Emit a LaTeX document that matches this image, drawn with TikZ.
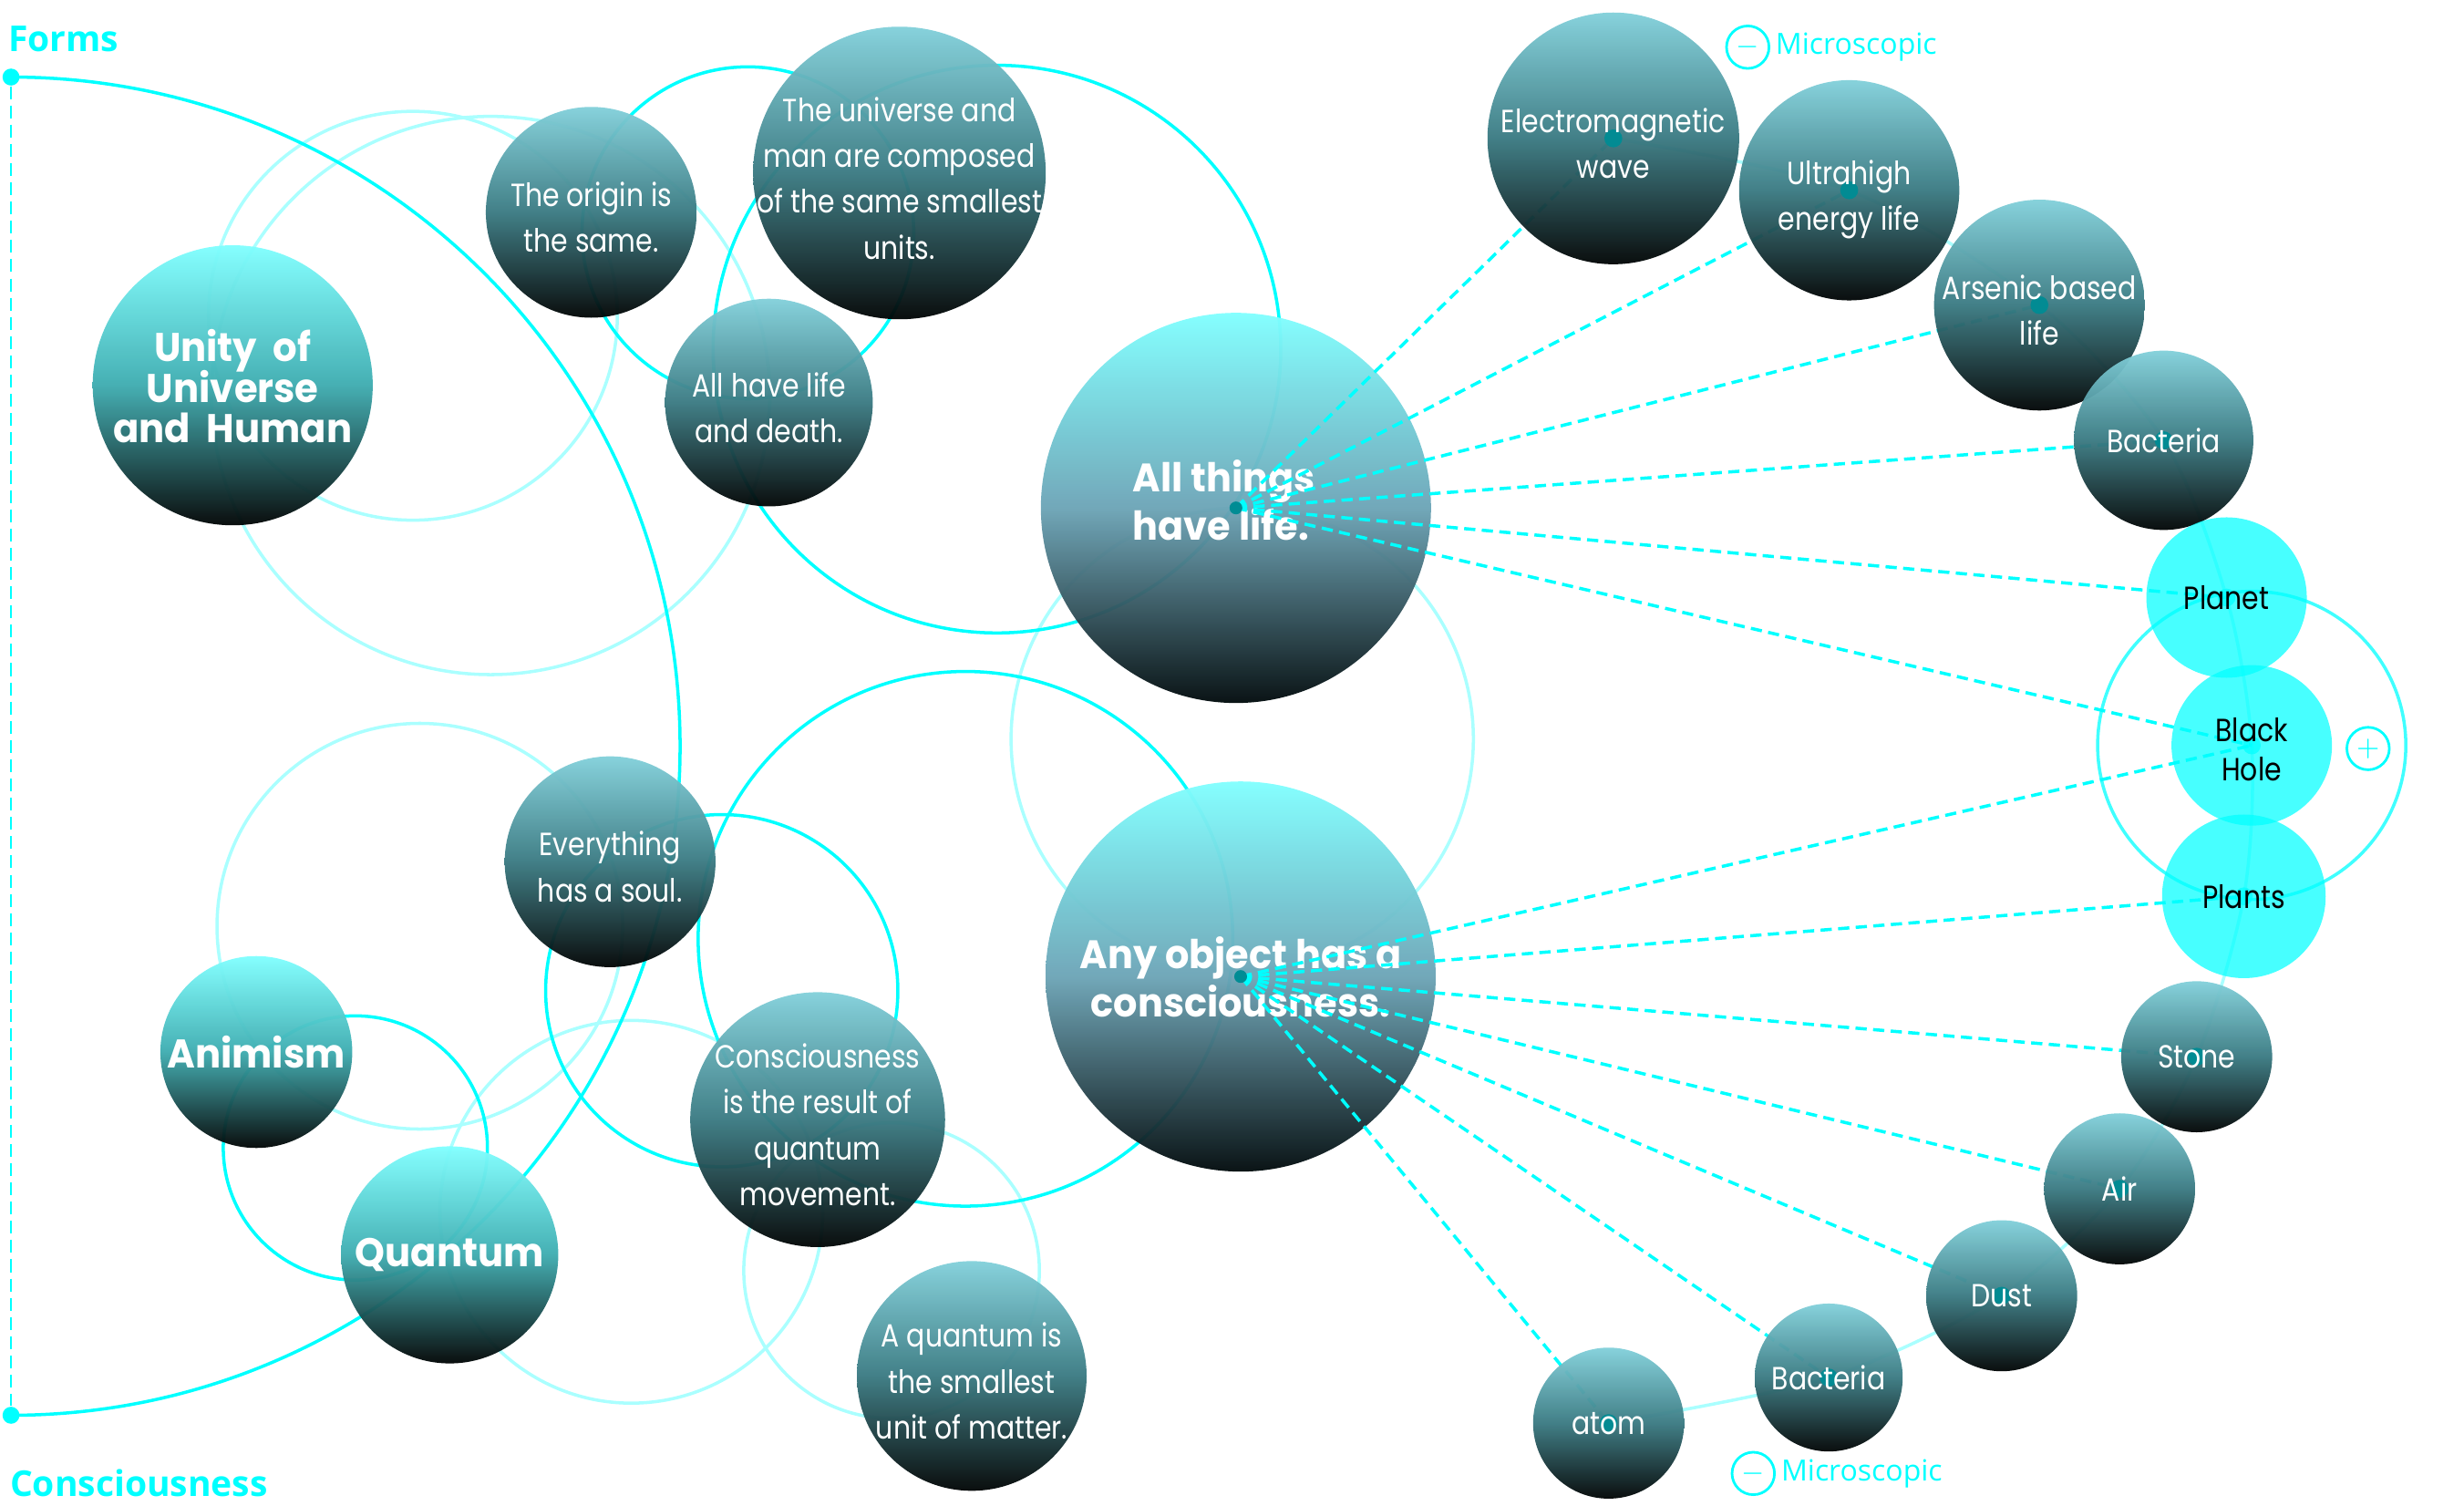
\documentclass[tikz,border=0pt]{standalone}
\usepackage{fontspec}
\usetikzlibrary{positioning,backgrounds}
\newfontfamily\ballfont[FakeStretch=0.85]{Poppins}
\newfontfamily\headfont[FakeStretch=0.95]{Poppins}
\newfontfamily\tagfont{Open Sans}
\definecolor{aqua}{RGB}{0,255,255}
\definecolor{paleaqua}{RGB}{170,255,255}
\definecolor{tealdot}{RGB}{0,140,148}
\definecolor{balltop}{RGB}{130,208,218}
\definecolor{ballmid}{RGB}{58,122,130}
\definecolor{ballbot}{RGB}{0,4,4}
\definecolor{aquatop}{RGB}{128,255,255}
\definecolor{aquamid}{RGB}{62,172,176}
\definecolor{bigmid}{RGB}{108,164,182}
\definecolor{bigbot}{RGB}{0,10,12}
\newcommand{\ballwords}[1]{\smash{\raisebox{-5pt}{\makebox[0pt]{\begin{tabular}{@{}c@{}}#1\end{tabular}}}}}
\newcommand{\ballwordsleft}[1]{\smash{\raisebox{-2.5pt}{\makebox[0pt]{\begin{tabular}{@{}l@{}}#1\end{tabular}}}}}
\pgfdeclarelayer{front}
\pgfsetlayers{background,main,front}

\begin{document}
\begin{tikzpicture}[x=0.01725cm, y=-0.01725cm,
  ball/.style={circle, inner sep=0pt, minimum size={0.0345cm*#1}, fill opacity=0.96, text opacity=1,
    align=center, text=white, font=\ballfont\fontsize{10}{14.3}\selectfont},
  darkball/.style={ball=#1, top color=balltop, bottom color=ballbot, middle color=ballmid},
  aquaball/.style={ball=#1, top color=aquatop, bottom color=ballbot, middle color=aquamid,
    font=\headfont\bfseries\fontsize{12.5}{12.7}\selectfont},
  bigball/.style={ball=#1, top color=aquatop, bottom color=bigbot, middle color=bigmid,
    font=\headfont\bfseries\fontsize{12.4}{15.2}\selectfont},
  cyanball/.style={ball=#1, fill=aqua, fill opacity=0.72, text=black},
  hubdot/.style={path picture={\fill[#1] (path picture bounding box.center) circle (2.8pt);}},
  ring/.style={draw=aqua, line width=1pt},
  palering/.style={draw=paleaqua, line width=1pt},
  link/.style={draw=aqua, line width=1pt, dash pattern=on 3.5pt off 2pt},
  hub/.style={circle, fill=aqua, inner sep=0pt, minimum size=5.3pt},
  iconring/.style={circle, draw=aqua, line width=0.8pt, inner sep=0pt, minimum size={0.0345cm*13.5},
    text=aqua, font=\fontsize{9.5}{9.5}\selectfont},
  tag/.style={text=aqua, inner sep=0pt, font=\tagfont\fontsize{9.1}{10}\selectfont},
  axislabel/.style={text=aqua, inner sep=0pt, anchor=west, font=\tagfont\bfseries\fontsize{11.1}{12}\selectfont}]
  \path[use as bounding box] (0,0) rectangle (1567,957.7);

  \begin{pgfonlayer}{front}
  \node[darkball=80, hubdot=tealdot] (wave) at (1026,88) {\ballwords{Electromagnetic\\wave}};
  \node[darkball=70, hubdot=tealdot] (energy) at (1176,121) {\ballwords{Ultrahigh\\energy life}};
  \node[darkball=67, hubdot=tealdot] (arsenic) at (1297,194) {\ballwords{Arsenic based\\life}};
  \node[darkball=57, hubdot=tealdot] (germ) at (1376,280) {Bacteria};
  \node[cyanball=51, hubdot=aqua] (planet) at (1416,380) {Planet};
  \node[cyanball=51, hubdot=aqua, font=\ballfont\fontsize{10}{12.4}\selectfont] (hole) at (1432,474) {\ballwords{Black\\Hole}};
  \node[cyanball=52, hubdot=aqua] (plants) at (1427,570) {Plants};
  \node[darkball=48, hubdot=tealdot] (stone) at (1397,672) {Stone};
  \node[darkball=48, hubdot=tealdot] (air) at (1348,756) {Air};
  \node[darkball=48, hubdot=tealdot] (dust) at (1273,824) {Dust};
  \node[darkball=47, hubdot=tealdot] (microbe) at (1163,876) {Bacteria};
  \node[darkball=48, hubdot=tealdot] (atom) at (1023,905) {atom};
  \end{pgfonlayer}

  \node[aquaball=89] (unity) at (148,245) {\ballwords{Unity\ \ of\\[-0.8pt]Universe\\[-0.8pt]and\ \ Human}};
  \node[darkball=67] (origin) at (376,135) {\ballwords{The origin is\\the same.}};
  \node[darkball=93] (units) at (572,110) {\ballwords{The universe and\\man are composed\\of the same smallest\\units.}};
  \node[darkball=66] (death) at (489,256) {\ballwords{All have life\\and death.}};
  \node[bigball=124] (life) at (786,323) {\hspace{-7.4pt}\ballwordsleft{All things\\have life.}};
  \node[darkball=67] (soul) at (388,548) {\ballwords{Everything\\has a soul.}};
  \node[aquaball=61] (animism) at (163,669) {Animism};
  \node[aquaball=69] (quantum) at (286,798) {Quantum};
  \node[darkball=81] (movement) at (520,712) {\ballwords{Consciousness\\is the result of\\quantum\\movement.}};
  \node[darkball=73] (matter) at (618,875) {\ballwords{A quantum is\\the smallest\\unit of matter.}};
  \node[bigball=124] (mind) at (789,621) {\ballwords{Any object has a\\consciousness.}};

  \node[hub] (top) at (7,49) {};
  \node[hub] (bottom) at (7,900) {};
  \node[axislabel] (forms) at (5,24.5) {Forms};
  \node[axislabel] (consc) at (6,943) {Consciousness};
  \draw[aqua, line width=0.8pt, dash pattern=on 4pt off 2pt] (top) -- (bottom);

  \node[iconring] (lesstop) at (1111.5,30) {$-$};
  \node[tag, right=1.5pt of lesstop] (microtop) {Microscopic};
  \node[iconring] (lessbot) at (1115,937) {$-$};
  \node[tag, right=1.5pt of lessbot] (microbot) {Microscopic};
  \node[iconring] (more) at (1506,476) {$+$};

  \begin{pgfonlayer}{background}
  \draw[palering] (262.6,200.8) circle[radius=130];
  \draw[palering] (312,251.5) circle[radius=177.5];
  \draw[palering] (790,470) circle[radius=147];
  \draw[palering] (267,589) circle[radius=129];
  \draw[palering] (401.5,770.6) circle[radius=121.7];
  \draw[palering] (567,808) circle[radius=94];
  \draw[ring] (475.6,148) circle[radius=105.5];
  \draw[ring] (634,222) circle[radius=180.5];
  \draw[ring] (614,597) circle[radius=170];
  \draw[ring] (459,630) circle[radius=112];
  \draw[ring] (226,730) circle[radius=84];
  \draw[ring, draw=aqua!75!white] (hole.center) circle[radius=98];
  \draw[ring] (top.center) arc[start angle=-90, end angle=90, radius=425.5];
  \end{pgfonlayer}

  \draw[palering] plot[smooth] coordinates {(wave.center) (energy.center) (arsenic.center) (germ.center)
    (planet.center) (hole.center) (plants.center) (stone.center) (air.center) (dust.center)
    (microbe.center) (atom.center)};

  \path[link] (life.center) edge (wave.center) edge (energy.center) edge (arsenic.center)
    edge (germ.center) edge (planet.center) edge (hole.center);
  \path[link] (mind.center) edge (hole.center) edge (plants.center) edge (stone.center)
    edge (air.center) edge (dust.center) edge (microbe.center) edge (atom.center);
  \fill[tealdot] (life.center) circle (2pt) (mind.center) circle (2pt);
\end{tikzpicture}
\end{document}
